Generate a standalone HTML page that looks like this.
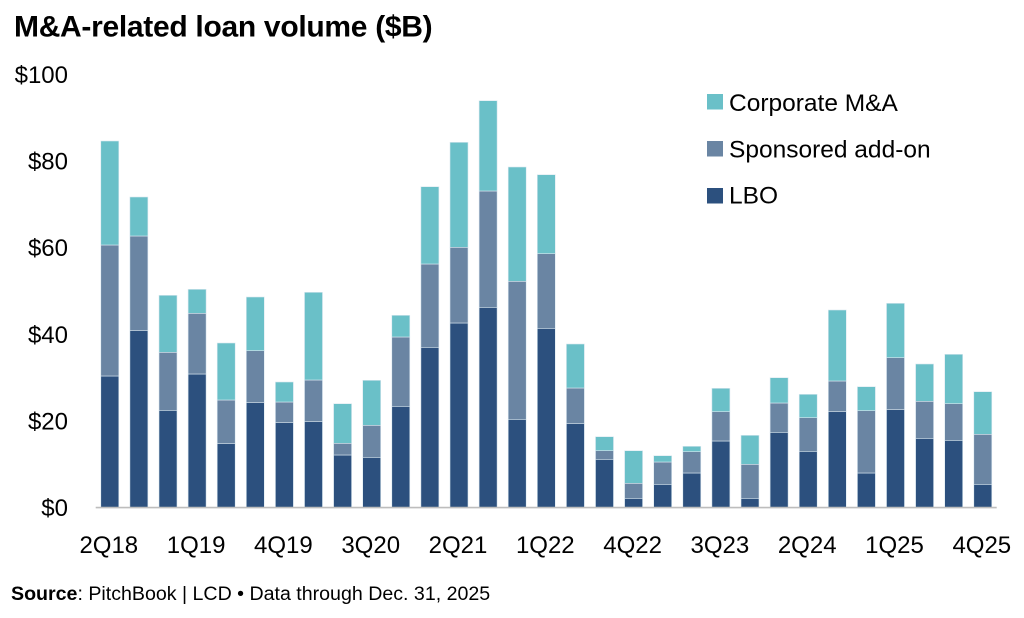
<!DOCTYPE html>
<html>
<head>
<meta charset="utf-8">
<style>
  html, body { margin:0; padding:0; background:#ffffff; }
  body { width:1024px; height:618px; overflow:hidden; }
  svg { display:block; font-family:"Liberation Sans", Arial, sans-serif; }
</style>
</head>
<body>
<svg width="1024" height="618" viewBox="0 0 1024 618" xmlns="http://www.w3.org/2000/svg">
  <rect x="0" y="0" width="1024" height="618" fill="#ffffff"/>
  <!-- Title -->
  <text x="14" y="36.5" font-size="30" font-weight="bold" fill="#000" letter-spacing="-0.3">M&amp;A-related loan volume ($B)</text>

  <!-- Y axis labels -->
  <g font-size="24" fill="#000" text-anchor="end">
    <text x="68" y="82.8">$100</text>
    <text x="68" y="169.5">$80</text>
    <text x="68" y="256.1">$60</text>
    <text x="68" y="342.8">$40</text>
    <text x="68" y="429.4">$20</text>
    <text x="68" y="516.1">$0</text>
  </g>

  <!-- Bars -->
  <g stroke="#dbe8f0" stroke-width="0.6">
    <!-- LBO -->
    <g fill="#2C507E">
      <rect x="100.8" y="376" width="18" height="131.5"/>
      <rect x="129.9" y="330.7" width="18" height="176.8"/>
      <rect x="159.0" y="410.3" width="18" height="97.2"/>
      <rect x="188.1" y="374" width="18" height="133.5"/>
      <rect x="217.2" y="443.7" width="18" height="63.8"/>
      <rect x="246.3" y="402.7" width="18" height="104.8"/>
      <rect x="275.4" y="422.7" width="18" height="84.8"/>
      <rect x="304.5" y="421.7" width="18" height="85.8"/>
      <rect x="333.6" y="455" width="18" height="52.5"/>
      <rect x="362.7" y="457.3" width="18" height="50.2"/>
      <rect x="391.8" y="406.3" width="18" height="101.2"/>
      <rect x="420.9" y="347.3" width="18" height="160.2"/>
      <rect x="450.0" y="323" width="18" height="184.5"/>
      <rect x="479.1" y="307.3" width="18" height="200.2"/>
      <rect x="508.2" y="419.3" width="18" height="88.2"/>
      <rect x="537.3" y="328.3" width="18" height="179.2"/>
      <rect x="566.4" y="423.7" width="18" height="83.8"/>
      <rect x="595.5" y="459.3" width="18" height="48.2"/>
      <rect x="624.6" y="498.3" width="18" height="9.2"/>
      <rect x="653.7" y="484.3" width="18" height="23.2"/>
      <rect x="682.8" y="473" width="18" height="34.5"/>
      <rect x="711.9" y="441" width="18" height="66.5"/>
      <rect x="741.0" y="498.3" width="18" height="9.2"/>
      <rect x="770.1" y="432.3" width="18" height="75.2"/>
      <rect x="799.2" y="451.3" width="18" height="56.2"/>
      <rect x="828.3" y="411.7" width="18" height="95.8"/>
      <rect x="857.4" y="473" width="18" height="34.5"/>
      <rect x="886.5" y="409.7" width="18" height="97.8"/>
      <rect x="915.6" y="438.3" width="18" height="69.2"/>
      <rect x="944.7" y="440.3" width="18" height="67.2"/>
      <rect x="973.8" y="484.3" width="18" height="23.2"/>
    </g>
    <!-- Sponsored add-on -->
    <g fill="#6A85A3">
      <rect x="100.8" y="245" width="18" height="131"/>
      <rect x="129.9" y="236" width="18" height="94.7"/>
      <rect x="159.0" y="352.3" width="18" height="58"/>
      <rect x="188.1" y="313.3" width="18" height="60.7"/>
      <rect x="217.2" y="400" width="18" height="43.7"/>
      <rect x="246.3" y="350.7" width="18" height="52"/>
      <rect x="275.4" y="402" width="18" height="20.7"/>
      <rect x="304.5" y="380" width="18" height="41.7"/>
      <rect x="333.6" y="443.3" width="18" height="11.7"/>
      <rect x="362.7" y="425.3" width="18" height="32"/>
      <rect x="391.8" y="337" width="18" height="69.3"/>
      <rect x="420.9" y="264" width="18" height="83.3"/>
      <rect x="450.0" y="247.3" width="18" height="75.7"/>
      <rect x="479.1" y="191" width="18" height="116.3"/>
      <rect x="508.2" y="281.3" width="18" height="138"/>
      <rect x="537.3" y="253.7" width="18" height="74.6"/>
      <rect x="566.4" y="388" width="18" height="35.7"/>
      <rect x="595.5" y="450.7" width="18" height="8.6"/>
      <rect x="624.6" y="483.3" width="18" height="15"/>
      <rect x="653.7" y="462" width="18" height="22.3"/>
      <rect x="682.8" y="451.7" width="18" height="21.3"/>
      <rect x="711.9" y="411.7" width="18" height="29.3"/>
      <rect x="741.0" y="464.3" width="18" height="34"/>
      <rect x="770.1" y="403" width="18" height="29.3"/>
      <rect x="799.2" y="417.7" width="18" height="33.6"/>
      <rect x="828.3" y="381" width="18" height="30.7"/>
      <rect x="857.4" y="410.7" width="18" height="62.3"/>
      <rect x="886.5" y="357.7" width="18" height="52"/>
      <rect x="915.6" y="401.3" width="18" height="37"/>
      <rect x="944.7" y="403.7" width="18" height="36.6"/>
      <rect x="973.8" y="434.3" width="18" height="50"/>
    </g>
    <!-- Corporate M&A -->
    <g fill="#6AC0C8">
      <rect x="100.8" y="141" width="18" height="104"/>
      <rect x="129.9" y="197" width="18" height="39"/>
      <rect x="159.0" y="295.3" width="18" height="57"/>
      <rect x="188.1" y="289.3" width="18" height="24"/>
      <rect x="217.2" y="343" width="18" height="57"/>
      <rect x="246.3" y="297" width="18" height="53.7"/>
      <rect x="275.4" y="382" width="18" height="20"/>
      <rect x="304.5" y="292.3" width="18" height="87.7"/>
      <rect x="333.6" y="403.7" width="18" height="39.6"/>
      <rect x="362.7" y="380.3" width="18" height="45"/>
      <rect x="391.8" y="315.3" width="18" height="21.7"/>
      <rect x="420.9" y="186.7" width="18" height="77.3"/>
      <rect x="450.0" y="142.3" width="18" height="105"/>
      <rect x="479.1" y="100.7" width="18" height="90.3"/>
      <rect x="508.2" y="167" width="18" height="114.3"/>
      <rect x="537.3" y="174.7" width="18" height="79"/>
      <rect x="566.4" y="344" width="18" height="44"/>
      <rect x="595.5" y="436.7" width="18" height="14"/>
      <rect x="624.6" y="450.7" width="18" height="32.6"/>
      <rect x="653.7" y="455.7" width="18" height="6.3"/>
      <rect x="682.8" y="446.3" width="18" height="5.4"/>
      <rect x="711.9" y="388.3" width="18" height="23.4"/>
      <rect x="741.0" y="435.3" width="18" height="29"/>
      <rect x="770.1" y="377.7" width="18" height="25.3"/>
      <rect x="799.2" y="394.3" width="18" height="23.4"/>
      <rect x="828.3" y="310" width="18" height="71"/>
      <rect x="857.4" y="386.7" width="18" height="24"/>
      <rect x="886.5" y="303.3" width="18" height="54.4"/>
      <rect x="915.6" y="364" width="18" height="37.3"/>
      <rect x="944.7" y="354.3" width="18" height="49.4"/>
      <rect x="973.8" y="391.7" width="18" height="42.6"/>
    </g>
  </g>

  <!-- X axis line -->
  <line x1="95.7" y1="507.6" x2="996.7" y2="507.6" stroke="#BDBDBD" stroke-width="1.6"/>

  <!-- X labels -->
  <g font-size="24" fill="#000" text-anchor="middle">
    <text x="108.8" y="553">2Q18</text>
    <text x="196.1" y="553">1Q19</text>
    <text x="283.4" y="553">4Q19</text>
    <text x="370.7" y="553">3Q20</text>
    <text x="458.0" y="553">2Q21</text>
    <text x="545.3" y="553">1Q22</text>
    <text x="632.6" y="553">4Q22</text>
    <text x="719.9" y="553">3Q23</text>
    <text x="807.2" y="553">2Q24</text>
    <text x="894.5" y="553">1Q25</text>
    <text x="981.8" y="553">4Q25</text>
  </g>

  <!-- Legend -->
  <rect x="707" y="94" width="16" height="15.5" fill="#6AC0C8"/>
  <rect x="707" y="141" width="16" height="15.5" fill="#6A85A3"/>
  <rect x="707" y="188" width="16" height="15.5" fill="#2C507E"/>
  <g font-size="24.5" fill="#000">
    <text x="729" y="111">Corporate M&amp;A</text>
    <text x="729" y="157.5">Sponsored add-on</text>
    <text x="729" y="203.5">LBO</text>
  </g>

  <!-- Source -->
  <text x="11" y="600" font-size="19.6" fill="#000"><tspan font-weight="bold">Source</tspan>: PitchBook | LCD • Data through Dec. 31, 2025</text>
</svg>
</body>
</html>
